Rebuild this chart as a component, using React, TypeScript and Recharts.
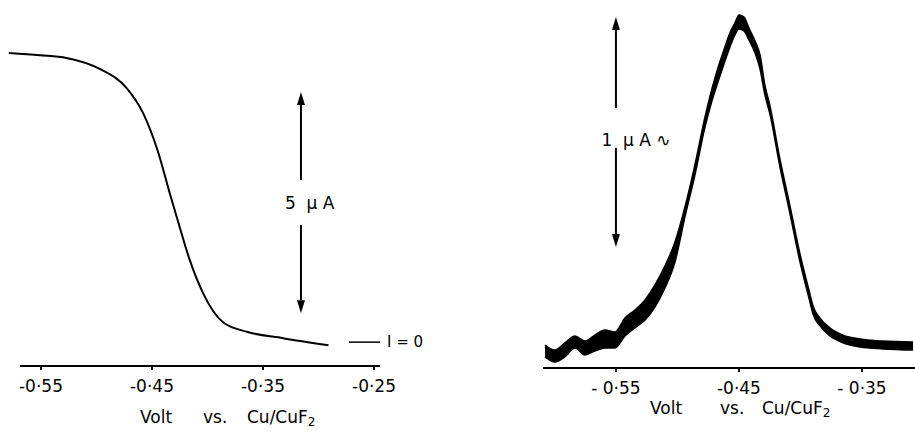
import {
  LineChart,
  Line,
  AreaChart,
  Area,
  XAxis,
  YAxis,
  ReferenceLine,
  Label,
} from "recharts";

// left panel: d.c. polarogram (current in µA vs volt)
const leftVolt = [-0.579, -0.551, -0.527, -0.497, -0.473, -0.458, -0.445, -0.434, -0.425, -0.416, -0.404, -0.386, -0.364, -0.332, -0.291];
const leftCurrent = [6.54, 6.49, 6.43, 6.18, 5.75, 5.18, 4.34, 3.37, 2.6, 1.86, 1.11, 0.45, 0.23, 0.09, -0.07];
const leftTicks = [-0.55, -0.45, -0.35, -0.25];
const leftTickLabels = ["-0·55", "-0·45", "-0·35", "-0·25"];

// right panel: a.c. polarogram, trace drawn as a band (low/high edge of the noisy pen trace)
const rightVolt = [
  -0.6077, -0.5996, -0.5915, -0.5833, -0.5752, -0.5671, -0.5589, -0.5508, -0.5427, -0.5346,
  -0.5264, -0.5183, -0.5102, -0.502, -0.4939, -0.4858, -0.4776, -0.472, -0.4671, -0.4622,
  -0.4573, -0.4533, -0.45, -0.4459, -0.4419, -0.437, -0.4329, -0.4289, -0.4248, -0.4167,
  -0.4085, -0.4004, -0.3923, -0.3898, -0.3841, -0.376, -0.3654, -0.3516, -0.3329, -0.3085,
];
const rightHigh = [
  0.1, 0.078, 0.109, 0.139, 0.117, 0.143, 0.165, 0.157, 0.217, 0.252,
  0.296, 0.361, 0.443, 0.548, 0.7, 0.883, 1.091, 1.213, 1.304, 1.383,
  1.457, 1.5, 1.535, 1.526, 1.478, 1.422, 1.361, 1.23, 1.139, 0.909,
  0.704, 0.496, 0.322, 0.27, 0.217, 0.174, 0.143, 0.126, 0.117, 0.113,
];
const rightLow = [
  0.048, 0.026, 0.048, 0.087, 0.057, 0.074, 0.087, 0.087, 0.139, 0.174,
  0.209, 0.265, 0.348, 0.461, 0.657, 0.839, 1.048, 1.161, 1.243, 1.322,
  1.396, 1.448, 1.474, 1.465, 1.426, 1.37, 1.3, 1.187, 1.104, 0.874,
  0.67, 0.461, 0.287, 0.235, 0.183, 0.139, 0.109, 0.091, 0.083, 0.078,
];
const rightTicks = [-0.55, -0.45, -0.35];
const rightTickLabels = ["- 0·55", "-0·45", "- 0·35"];

const leftData = leftVolt.map((v, i) => ({ v, i: leftCurrent[i] }));
const rightData = rightVolt.map((v, i) => ({ v, band: [rightLow[i], rightHigh[i]] }));

const FONT = "'DejaVu Sans', sans-serif";

// vertical arrow piece, head drawn at the second point of the segment
const ArrowShape = (p: any) => {
  const { x1, y1, x2, y2 } = p;
  const dir = y2 < y1 ? -1 : 1;
  const headLen = 13;
  return (
    <g>
      <line x1={x1} y1={y1} x2={x2} y2={y2 - dir * headLen} stroke="#000" strokeWidth={2} />
      <polygon
        points={`${x2},${y2} ${x2 - 4},${y2 - dir * headLen} ${x2 + 4},${y2 - dir * headLen}`}
        fill="#000"
      />
    </g>
  );
};

const axisTitle = (xs: number[], baseline: number) => () => (
  <text y={baseline} fontFamily={FONT} fontSize={17} fill="#000">
    <tspan x={xs[0]}>Volt</tspan>
    <tspan x={xs[1]}>vs.</tspan>
    <tspan x={xs[2]}>Cu/CuF</tspan>
    <tspan dy={3} fontSize={12}>2</tspan>
  </text>
);

export default function App() {
  const tickStyle = { fill: "#000", fontSize: 17, fontFamily: FONT };
  return (
    <div style={{ position: "absolute", left: 0, top: 0, width: 915, height: 432, background: "#fff" }}>
      <div style={{ position: "absolute", left: 0, top: 0 }}>
        <LineChart width={460} height={432} data={leftData} margin={{ top: 10, right: 80, bottom: 0, left: 8 }}>
          <XAxis
            type="number"
            dataKey="v"
            domain={[-0.5797, -0.2446]}
            allowDataOverflow
            ticks={leftTicks}
            tickFormatter={(t: number) => leftTickLabels[leftTicks.indexOf(t)] ?? ""}
            axisLine={false}
            tickLine={{ stroke: "#000", strokeWidth: 2 }}
            tickSize={4}
            tickMargin={10}
            tick={tickStyle}
            height={66}
            interval={0}
          >
            <Label content={axisTitle([140, 203, 247], 423)} />
          </XAxis>
          <YAxis hide type="number" domain={[-0.54, 7.514]} allowDataOverflow />
          <ReferenceLine
            segment={[{ x: -0.569, y: -0.54 }, { x: -0.2446, y: -0.54 }]}
            stroke="#000"
            strokeWidth={2}
          />
          <ReferenceLine
            segment={[{ x: -0.3158, y: 3.67 }, { x: -0.3158, y: 5.66 }]}
            shape={ArrowShape}
          />
          <ReferenceLine
            segment={[{ x: -0.3158, y: 2.65 }, { x: -0.3158, y: 0.656 }]}
            shape={ArrowShape}
          />
          <ReferenceLine
            segment={[{ x: -0.335, y: 3.145 }, { x: -0.281, y: 3.145 }]}
            stroke="none"
            label={{ value: "5\u00a0\u00a0µ\u00a0A", position: "center", fill: "#000", fontSize: 17, fontFamily: FONT }}
          />
          <ReferenceLine
            segment={[{ x: -0.2725, y: 0 }, { x: -0.2446, y: 0 }]}
            stroke="#000"
            strokeWidth={1.5}
            label={{ value: "I\u00a0=\u00a00", position: "right", offset: 7, fill: "#000", fontSize: 15, fontFamily: FONT }}
          />
          <Line
            type="monotone"
            dataKey="i"
            stroke="#000"
            strokeWidth={2}
            dot={false}
            isAnimationActive={false}
          />
        </LineChart>
      </div>
      <div style={{ position: "absolute", left: 540, top: 0 }}>
        <AreaChart width={375} height={432} data={rightData} margin={{ top: 5, right: 0, bottom: 0, left: 3 }}>
          <XAxis
            type="number"
            dataKey="v"
            domain={[-0.6093, -0.3069]}
            allowDataOverflow
            ticks={rightTicks}
            tickFormatter={(t: number) => rightTickLabels[rightTicks.indexOf(t)] ?? ""}
            axisLine={{ stroke: "#000", strokeWidth: 2 }}
            tickLine={{ stroke: "#000", strokeWidth: 2 }}
            tickSize={4}
            tickMargin={10}
            tick={tickStyle}
            height={64}
            interval={0}
          >
            <Label content={axisTitle([110, 180, 222], 414)} />
          </XAxis>
          <YAxis hide type="number" domain={[0, 1.578]} allowDataOverflow />
          <ReferenceLine
            segment={[{ x: -0.55, y: 1.13 }, { x: -0.55, y: 1.526 }]}
            shape={ArrowShape}
          />
          <ReferenceLine
            segment={[{ x: -0.55, y: 0.957 }, { x: -0.55, y: 0.526 }]}
            shape={ArrowShape}
          />
          <ReferenceLine
            segment={[{ x: -0.5654, y: 0.991 }, { x: -0.502, y: 0.991 }]}
            stroke="none"
            label={{ value: "1\u00a0\u00a0µ\u00a0A\u00a0∿", position: "center", fill: "#000", fontSize: 17, fontFamily: FONT }}
          />
          <Area
            type="monotone"
            dataKey="band"
            stroke="#000"
            strokeWidth={1.5}
            fill="#000"
            fillOpacity={1}
            dot={false}
            isAnimationActive={false}
          />
        </AreaChart>
      </div>
    </div>
  );
}
